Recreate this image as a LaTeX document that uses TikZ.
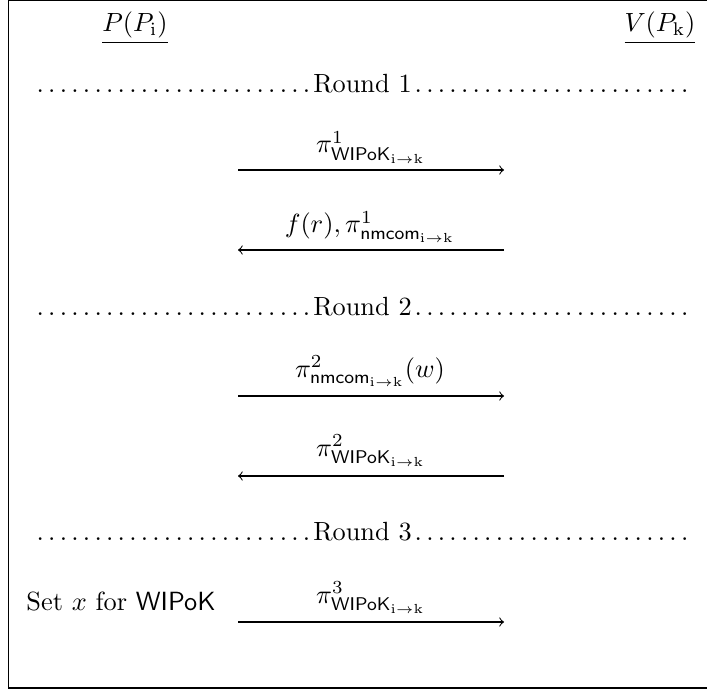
\documentclass[tikz,border=0pt]{standalone}
\usepackage{amsmath}
\begin{document}
\begin{tikzpicture}[x=0.38pt,y=-0.38pt,
  lbl/.style={anchor=base,inner sep=0pt,outer sep=0pt},
  msg/.style={->,line width=0.4pt},
  roundline/.style={anchor=base,inner sep=0pt,text width=250pt,align=center}]
\useasboundingbox (0,0) rectangle (707,692);
% frame (right edge lies outside the picture)
\draw[line width=0.5pt] (720,0.6) -- (8.6,0.6) -- (8.6,688) -- (720,688);
% parties
\node[lbl] (P) at (135,32) {\underline{$P(P_{\mathrm{i}})$}};
\node[lbl] (V) at (660,32) {\underline{$V(P_{\mathrm{k}})$}};
% rounds
\node[roundline] (r1) at (362.5,93) {\dotfill Round 1\dotfill};
\node[roundline] (r2) at (362.5,316) {\dotfill Round 2\dotfill};
\node[roundline] (r3) at (362.5,540) {\dotfill Round 3\dotfill};
% arrow end points
\coordinate (a1l) at (238,170); \coordinate (a1r) at (504,170);
\coordinate (a2l) at (238,250); \coordinate (a2r) at (504,250);
\coordinate (a3l) at (238,396); \coordinate (a3r) at (504,396);
\coordinate (a4l) at (238,476); \coordinate (a4r) at (504,476);
\coordinate (a5l) at (238,622); \coordinate (a5r) at (504,622);
% messages
\draw[msg] (a1l) -- (a1r);
\node[lbl] (m1) at (371,153) {$\pi^{1}_{\mathsf{WIPoK}_{\mathrm{i}\to\mathrm{k}}}$};
\draw[msg] (a2r) -- (a2l);
\node[lbl] (m2) at (370,233) {$f(r),\pi^{1}_{\mathsf{nmcom}_{\mathrm{i}\to\mathrm{k}}}$};
\draw[msg] (a3l) -- (a3r);
\node[lbl] (m3) at (370,377) {$\pi^{2}_{\mathsf{nmcom}_{\mathrm{i}\to\mathrm{k}}}(w)$};
\draw[msg] (a4r) -- (a4l);
\node[lbl] (m4) at (371,456) {$\pi^{2}_{\mathsf{WIPoK}_{\mathrm{i}\to\mathrm{k}}}$};
\draw[msg] (a5l) -- (a5r);
\node[lbl] (m5) at (371,603) {$\pi^{3}_{\mathsf{WIPoK}_{\mathrm{i}\to\mathrm{k}}}$};
\node[lbl] (setx) at (121,610) {Set $x$ for \textsf{WIPoK}};
\end{tikzpicture}
\end{document}
